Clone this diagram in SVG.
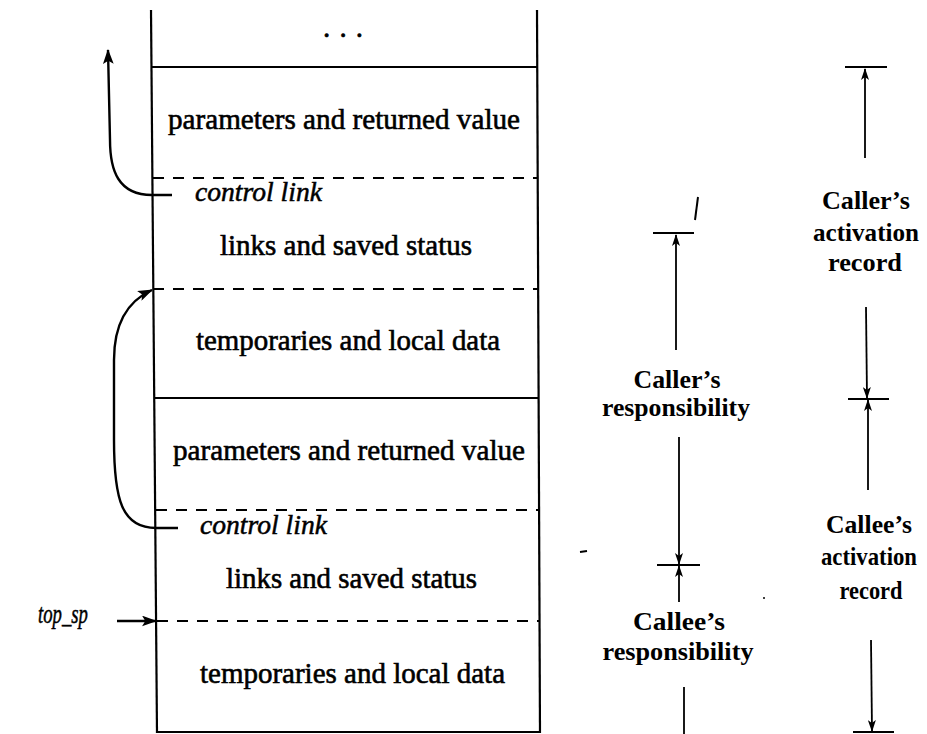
<svg xmlns="http://www.w3.org/2000/svg" width="927" height="734" viewBox="0 0 927 734">
<defs>
<marker id="ah" viewBox="0 0 12 8" refX="11" refY="4" markerWidth="12" markerHeight="8" markerUnits="userSpaceOnUse" orient="auto">
<path d="M0,0 L12,4 L0,8 L3,4 z" fill="#000"/>
</marker>
<marker id="ahb" viewBox="0 0 14 10" refX="13" refY="5" markerWidth="15" markerHeight="11" markerUnits="userSpaceOnUse" orient="auto">
<path d="M0,0 L14,5 L0,10 L3,5 z" fill="#000"/>
</marker>
<style>
.box{stroke:#000;stroke-width:2.2;fill:none}
.dash{stroke:#000;stroke-width:2;fill:none;stroke-dasharray:11 9}
.ln{stroke:#000;stroke-width:1.8;fill:none}
.cv{stroke:#000;stroke-width:2.4;fill:none}
.t{font-family:"Liberation Serif","Times New Roman",serif;font-size:29px;fill:#000;stroke:#000;stroke-width:0.6}
.i{font-family:"Liberation Serif","Times New Roman",serif;font-size:27px;font-style:italic;fill:#000;stroke:#000;stroke-width:0.5}
.r{font-family:"Liberation Serif","Times New Roman",serif;font-size:25px;font-weight:bold;fill:#000;text-anchor:middle}
</style>
</defs>
<rect width="927" height="734" fill="#fff"/>

<g id="stack">
<line class="box" x1="151" y1="10" x2="157" y2="733"/>
<line class="box" x1="537" y1="10" x2="540" y2="733"/>
<line class="box" x1="151" y1="67" x2="538" y2="67"/>
<line class="box" x1="154" y1="398" x2="539" y2="398"/>
<line class="box" x1="157" y1="732" x2="540" y2="732"/>
<line class="dash" x1="153" y1="178" x2="538" y2="178"/>
<line class="dash" x1="153" y1="289" x2="538" y2="289"/>
<line class="dash" x1="156" y1="510" x2="539" y2="510"/>
<line class="dash" x1="157" y1="621" x2="540" y2="621"/>
</g>

<g id="cells">
<text class="t" x="323" y="37" textLength="40" lengthAdjust="spacing">. . .</text>
<text class="t" x="168" y="129" textLength="352" lengthAdjust="spacingAndGlyphs">parameters and returned value</text>
<text class="i" x="195" y="201" textLength="127" lengthAdjust="spacingAndGlyphs">control link</text>
<text class="t" x="220" y="255" textLength="252" lengthAdjust="spacingAndGlyphs">links and saved status</text>
<text class="t" x="196" y="350" textLength="304" lengthAdjust="spacingAndGlyphs">temporaries and local data</text>
<text class="t" x="173" y="460" textLength="352" lengthAdjust="spacingAndGlyphs">parameters and returned value</text>
<text class="i" x="200" y="534" textLength="127" lengthAdjust="spacingAndGlyphs">control link</text>
<text class="t" x="226" y="588" textLength="251" lengthAdjust="spacingAndGlyphs">links and saved status</text>
<text class="t" x="200" y="683" textLength="305" lengthAdjust="spacingAndGlyphs">temporaries and local data</text>
<text class="i" x="38" y="623" font-size="22" textLength="50" lengthAdjust="spacingAndGlyphs">top_sp</text>
</g>

<g id="labels">
<text class="r" x="677" y="388" textLength="87" lengthAdjust="spacingAndGlyphs">Caller’s</text>
<text class="r" x="676" y="416" textLength="148" lengthAdjust="spacingAndGlyphs">responsibility</text>
<text class="r" x="679" y="630" textLength="92" lengthAdjust="spacingAndGlyphs">Callee’s</text>
<text class="r" x="678" y="660" textLength="151" lengthAdjust="spacingAndGlyphs">responsibility</text>
<text class="r" x="866" y="209" textLength="88" lengthAdjust="spacingAndGlyphs">Caller’s</text>
<text class="r" x="866" y="241" textLength="106" lengthAdjust="spacingAndGlyphs">activation</text>
<text class="r" x="865" y="271" textLength="74" lengthAdjust="spacingAndGlyphs">record</text>
<text class="r" x="869" y="533" textLength="86" lengthAdjust="spacingAndGlyphs">Callee’s</text>
<text class="r" x="869" y="565" textLength="96" lengthAdjust="spacingAndGlyphs">activation</text>
<text class="r" x="871" y="599" textLength="63" lengthAdjust="spacingAndGlyphs">record</text>
</g>

<g id="connectors">
<path class="cv" d="M172,195 L152,195 C118,195 110,170 110,140 L108,50" marker-end="url(#ahb)"/>
<path class="cv" d="M178,528 L156,528 C122,528 114,500 114,440 L114,360 C114,320 130,300 152,290" marker-end="url(#ahb)"/>
<line class="cv" x1="117" y1="621" x2="156" y2="621" marker-end="url(#ahb)"/>

<line class="ln" x1="653" y1="233" x2="694" y2="233"/>
<line class="ln" x1="676" y1="350" x2="676" y2="235" marker-end="url(#ah)"/>
<line class="ln" x1="679" y1="437" x2="679" y2="564" marker-end="url(#ah)"/>
<line class="ln" x1="657" y1="565" x2="700" y2="565"/>
<line class="ln" x1="679" y1="602" x2="679" y2="566" marker-end="url(#ah)"/>
<line class="ln" x1="684" y1="687" x2="684" y2="734"/>

<line class="ln" x1="845" y1="67" x2="887" y2="67"/>
<line class="ln" x1="865" y1="158" x2="865" y2="69" marker-end="url(#ah)"/>
<line class="ln" x1="866" y1="307" x2="867" y2="398" marker-end="url(#ah)"/>
<line class="ln" x1="848" y1="399" x2="889" y2="399"/>
<line class="ln" x1="868" y1="490" x2="868" y2="400" marker-end="url(#ah)"/>
<line class="ln" x1="871" y1="640" x2="872" y2="731" marker-end="url(#ah)"/>
<line class="ln" x1="853" y1="732" x2="894" y2="732"/>
</g>

<g id="marks">
<line x1="698" y1="197" x2="695" y2="220" stroke="#000" stroke-width="2"/>
<line x1="580" y1="552" x2="587" y2="551" stroke="#000" stroke-width="2"/>
<circle cx="764" cy="598" r="1" fill="#000"/>
</g>
</svg>
